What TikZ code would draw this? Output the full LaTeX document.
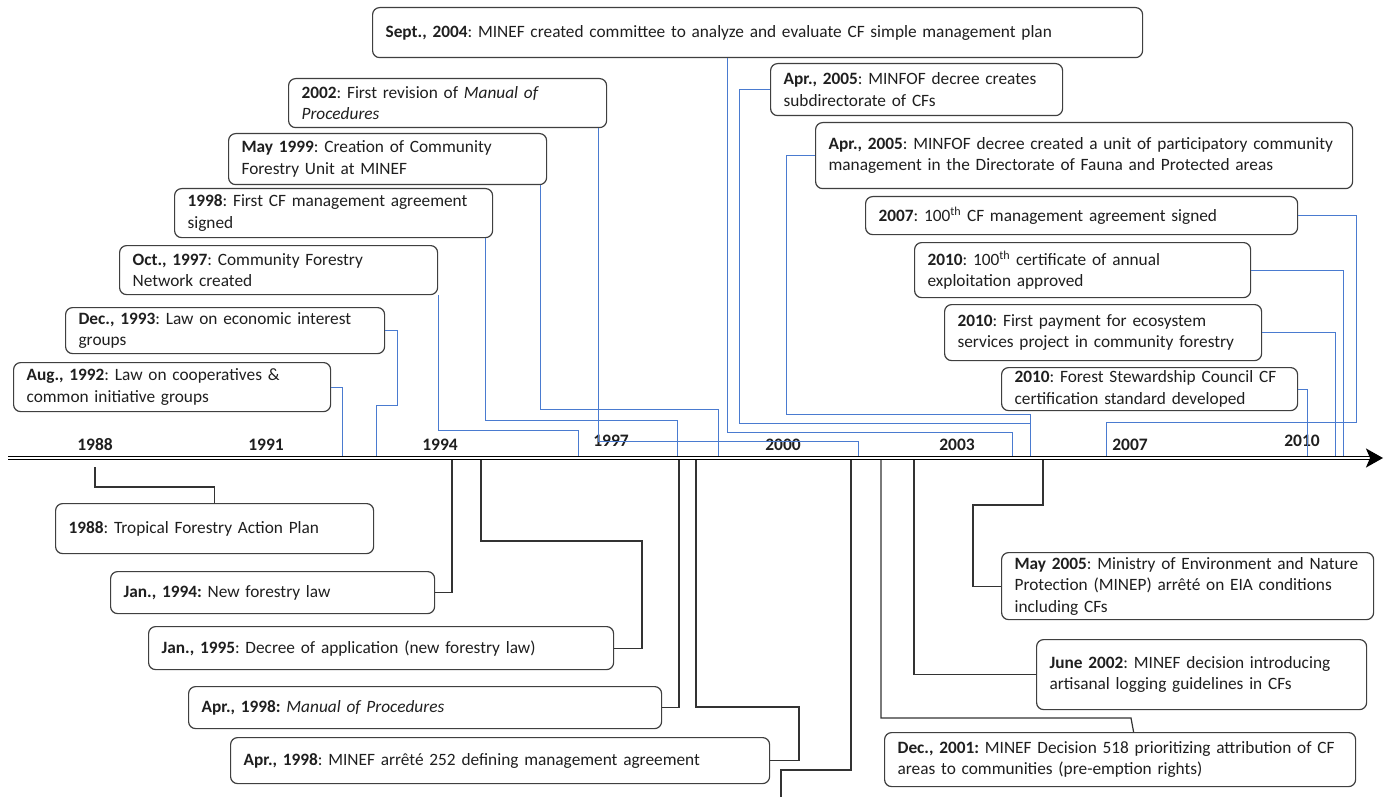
\documentclass[tikz,border=0pt]{standalone}
\usepackage{fontspec}
\setmainfont{Carlito}
\usetikzlibrary{arrows.meta}
\definecolor{conblue}{HTML}{4A7BD0}
\definecolor{boxline}{HTML}{3F3F3F}
\definecolor{txt}{HTML}{1F1F1F}
\definecolor{blk}{HTML}{333333}
\newcommand\ml[1]{\mbox{#1}}
\frenchspacing
\begin{document}
\begin{tikzpicture}[x=1pt,y=-1pt,
  evbox/.style={draw=boxline, line width=1.2pt, rounded corners=7pt, fill=white,
    anchor=north west, inner xsep=13pt, inner ysep=0pt, align=left,
    font=\fontsize{17.3}{21.5}\selectfont, text=txt},
  yr/.style={font=\bfseries\fontsize{17.5}{20}\selectfont, text=txt, inner sep=1pt},
  bcon/.style={draw=conblue, line width=0.9pt},
  kcon/.style={draw=blk, line width=1.2pt},
  axisline/.style={draw=black, line width=1.5pt, double=white, double distance=1.3pt,
    -{Stealth[length=17pt,width=19pt,inset=4pt]}}
]
\useasboundingbox (0,0) rectangle (1385,797);

% ---- axis ----
\coordinate (axstart) at (8,458);
\coordinate (axend) at (1383,458);
\draw[axisline] (axstart) -- (axend);

% ---- year labels ----
\node[yr] (y88) at (95,445) {1988};
\node[yr] (y91) at (266,445) {1991};
\node[yr] (y94) at (440,445) {1994};
\node[yr] (y97) at (611,441) {1997};
\node[yr] (y00) at (783,445) {2000};
\node[yr] (y03) at (957,445) {2003};
\node[yr] (y07) at (1130,445) {2007};
\node[yr] (y10) at (1302,441) {2010};

% ---- axis attachment points ----
\coordinate (t92) at (342,456);
\coordinate (t93) at (376,456);
\coordinate (t97) at (578,456);
\coordinate (t98) at (677,456);
\coordinate (t99) at (718,456);
\coordinate (t02) at (858,456);
\coordinate (t04) at (1012,456);
\coordinate (t05) at (1030,456);
\coordinate (t07) at (1106,456);
\coordinate (t10a) at (1307,456);
\coordinate (t10b) at (1335,456);
\coordinate (t10c) at (1343,456);

\coordinate (b88) at (95,467);
\coordinate (b94) at (452,460);
\coordinate (b95) at (481,460);
\coordinate (b98a) at (679,460);
\coordinate (b98b) at (696,460);
\coordinate (bx) at (851,460);
\coordinate (b01) at (881,460);
\coordinate (b02) at (914,460);
\coordinate (b05) at (1043,460);
\coordinate (cutend) at (781,797);

% ---- top boxes ----
\node[evbox, text width=744pt, minimum height=50pt] (sept04) at (372,7)
  {\ml{\textbf{Sept., 2004}: MINEF created committee to analyze and evaluate CF simple management plan}};
\node[evbox, text width=292pt, minimum height=49pt] (rev02) at (288,78)
  {\ml{\textbf{2002}: First revision of \textit{Manual of}}\\\ml{\textit{Procedures}}};
\node[evbox, text width=292pt, minimum height=51pt] (may99) at (228,133)
  {\ml{\textbf{May 1999}: Creation of Community}\\\ml{Forestry Unit at MINEF}};
\node[evbox, text width=292pt, minimum height=49pt] (cf98) at (174,188)
  {\ml{\textbf{1998}: First CF management agreement}\\\ml{signed}};
\node[evbox, text width=292pt, minimum height=49pt] (oct97) at (119,245)
  {\ml{\textbf{Oct., 1997}: Community Forestry}\\\ml{Network created}};
\node[evbox, text width=293pt, minimum height=46pt] (dec93) at (65,307)
  {\ml{\textbf{Dec., 1993}: Law on economic interest}\\\ml{groups}};
\node[evbox, text width=291pt, minimum height=49pt] (aug92) at (13,362)
  {\ml{\textbf{Aug., 1992}: Law on cooperatives \&}\\\ml{common initiative groups}};

\node[evbox, text width=266pt, minimum height=52pt] (apr05a) at (770,63)
  {\ml{\textbf{Apr., 2005}: MINFOF decree creates}\\\ml{subdirectorate of CFs}};
\node[evbox, text width=511pt, minimum height=66pt] (apr05b) at (815,122)
  {\ml{\textbf{Apr., 2005}: MINFOF decree created a unit of participatory community}\\\ml{management in the Directorate of Fauna and Protected areas}};
\node[evbox, text width=406pt, minimum height=38pt] (cf07) at (865,196)
  {\ml{\textbf{2007}: 100\textsuperscript{th} CF management agreement signed}};
\node[evbox, text width=310pt, minimum height=55pt] (cert10) at (914,242)
  {\ml{\textbf{2010}: 100\textsuperscript{th} certificate of annual}\\\ml{exploitation approved}};
\node[evbox, text width=291pt, minimum height=56pt] (pay10) at (944,304)
  {\ml{\textbf{2010}: First payment for ecosystem}\\\ml{services project in community forestry}};
\node[evbox, text width=270pt, minimum height=43pt] (fsc10) at (1001,367)
  {\ml{\textbf{2010}: Forest Stewardship Council CF}\\\ml{certification standard developed}};

% ---- bottom boxes ----
\node[evbox, text width=292pt, minimum height=50pt] (tfap88) at (55,503)
  {\ml{\textbf{1988}: Tropical Forestry Action Plan}};
\node[evbox, text width=298pt, minimum height=42pt] (jan94) at (110,571)
  {\ml{\textbf{Jan., 1994:} New forestry law}};
\node[evbox, text width=439pt, minimum height=43pt] (jan95) at (148,626)
  {\ml{\textbf{Jan., 1995}: Decree of application (new forestry law)}};
\node[evbox, text width=447pt, minimum height=42pt] (apr98a) at (188,686)
  {\ml{\textbf{Apr., 1998:} \textit{Manual of Procedures}}};
\node[evbox, text width=513pt, minimum height=46pt] (apr98b) at (230,737)
  {\ml{\textbf{Apr., 1998}: MINEF arrêté 252 defining management agreement}};
\node[evbox, text width=445pt, minimum height=54pt] (dec01) at (884,732)
  {\ml{\textbf{Dec., 2001:} MINEF Decision 518 prioritizing attribution of CF}\\\ml{areas to communities (pre-emption rights)}};
\node[evbox, text width=304pt, minimum height=70pt] (jun02) at (1036,639)
  {\ml{\textbf{June 2002}: MINEF decision introducing}\\\ml{artisanal logging guidelines in CFs}};
\node[evbox, text width=346pt, minimum height=67pt] (may05) at (1001,552)
  {\ml{\textbf{May 2005}: Ministry of Environment and Nature}\\\ml{Protection (MINEP) arrêté on EIA conditions}\\\ml{including CFs}};

% ---- blue connectors (above axis) ----
\draw[bcon] (aug92.east) -| (t92);
\draw[bcon] (dec93.east) -| (397,405) -| (t93);
\draw[bcon] (oct97.south east) |- (578,430) -- (t97);
\draw[bcon] ([xshift=-8pt]cf98.south east) |- (677,420) -- (t98);
\draw[bcon] ([xshift=-7pt]may99.south east) |- (718,409) -- (t99);
\draw[bcon] ([xshift=-9pt]rev02.south east) |- (858,441) -- (t02);
\draw[bcon] ([xshift=-30pt]sept04.south) |- (1012,432) -- (t04);
\draw[bcon] (apr05a.west) -| (739,423) -| (t05);
\draw[bcon] (apr05b.west) -| (786,414) -| (t05);
\draw[bcon] (cf07.east) -| (1356,422) -| (t07);
\draw[bcon] (cert10.east) -| (t10c);
\draw[bcon] (pay10.east) -| (t10b);
\draw[bcon] (fsc10.east) -| (t10a);

% ---- black connectors (below axis) ----
\draw[kcon] (b88) -- (95,487) -| (tfap88.north);
\draw[kcon] (jan94.east) -| (b94);
\draw[kcon] (jan95.east) -| (642,541) -| (b95);
\draw[kcon] (apr98a.east) -| (b98a);
\draw[kcon] (apr98b.east) -| (799,707) -| (b98b);
\draw[kcon] (bx) |- (781,770) -- (cutend);
\draw[kcon] (b01) |- (1131,718) -- ([xshift=13.5pt]dec01.north);
\draw[kcon] (jun02.west) -| (b02);
\draw[kcon] (may05.west) -| (973,505) -| (b05);
\end{tikzpicture}
\end{document}
